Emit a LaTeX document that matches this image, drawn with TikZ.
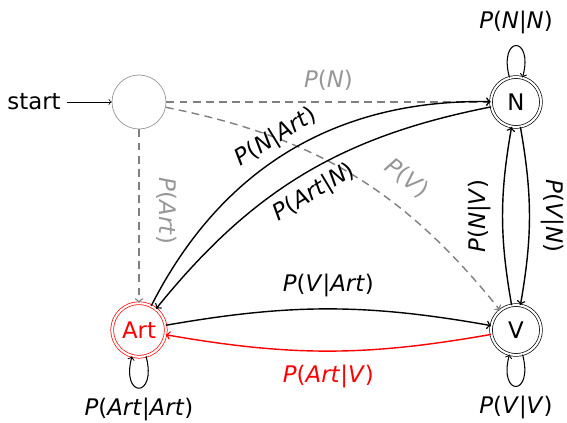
\documentclass[tikz,border=0pt]{standalone}
\usepackage{fontspec}
\setmainfont{DejaVu Sans}
\usepackage{tikz}
\usetikzlibrary{arrows}
\definecolor{muted}{RGB}{128,128,128}
\definecolor{mutedtext}{RGB}{150,150,150}
\definecolor{highlight}{RGB}{255,0,0}
\newcommand{\pp}[1]{\textit{P}(\textit{#1})}
\newcommand{\pc}[2]{\textit{P}(\textit{#1}|\textit{#2})}

\begin{document}
\begin{tikzpicture}[font=\fontsize{13}{15}\selectfont]
\useasboundingbox (0,0) rectangle (11.34,-8.46);
\node (start) [circle, draw=mutedtext, minimum size=1.08cm] at (2.78,-2.04) {};
\node (startlbl) [left of=start, node distance=2.1cm] {start};
\node (N) [circle, draw, double, double distance=1.2pt, minimum size=1cm, right of=start, node distance=7.54cm] {N};
\node (Art) [circle, draw=highlight, text=highlight, double, double distance=1.2pt, minimum size=1cm, below of=start, node distance=4.56cm] {Art};
\node (V) [circle, draw, double, double distance=1.2pt, minimum size=1cm, below of=N, node distance=4.56cm] {V};

\draw [->] (startlbl) -- (start);
\draw [->, thick, muted, dash pattern=on 4.5pt off 3pt] (start) -- node [above=3pt, mutedtext] {\pp{N}} (N);
\draw [->, thick, muted, dash pattern=on 4.5pt off 3pt] (start) -- node [pos=0.47, sloped, above=6.5pt, mutedtext] {\pp{Art}} (Art);
\draw [->, thick, muted, dash pattern=on 4.5pt off 3pt] (start) to [bend left=20] node [pos=0.62, sloped, above=6pt, mutedtext] {\pp{V}} (V);
\draw [->, thick] (Art) to [bend left=32] node [pos=0.49, sloped, above] {\pc{N}{Art}} (N);
\draw [->, thick] (N) to [bend right=20] node [pos=0.5, sloped, below=2pt] {\pc{Art}{N}} (Art);
\draw [->, thick] (V) to [bend left=10] node [sloped, above=3pt, allow upside down] {\pc{N}{V}} (N);
\draw [->, thick] (N) to [bend left=10] node [sloped, above=3pt, allow upside down] {\pc{V}{N}} (V);
\draw [->, thick] (Art) to [bend left=10] node [above=3pt] {\pc{V}{Art}} (V);
\draw [->, thick, highlight] (V) to [bend left=10] node [below=4pt] {\pc{Art}{V}} (Art);
\draw [->, semithick] (N) to [loop above, min distance=8.8mm] node [above=3pt] {\pc{N}{N}} (N);
\draw [->, semithick] (Art) to [loop below, min distance=8.8mm] node [below=2pt] {\pc{Art}{Art}} (Art);
\draw [->, semithick] (V) to [loop below, min distance=8.8mm] node [below=2pt] {\pc{V}{V}} (V);
\end{tikzpicture}
\end{document}
